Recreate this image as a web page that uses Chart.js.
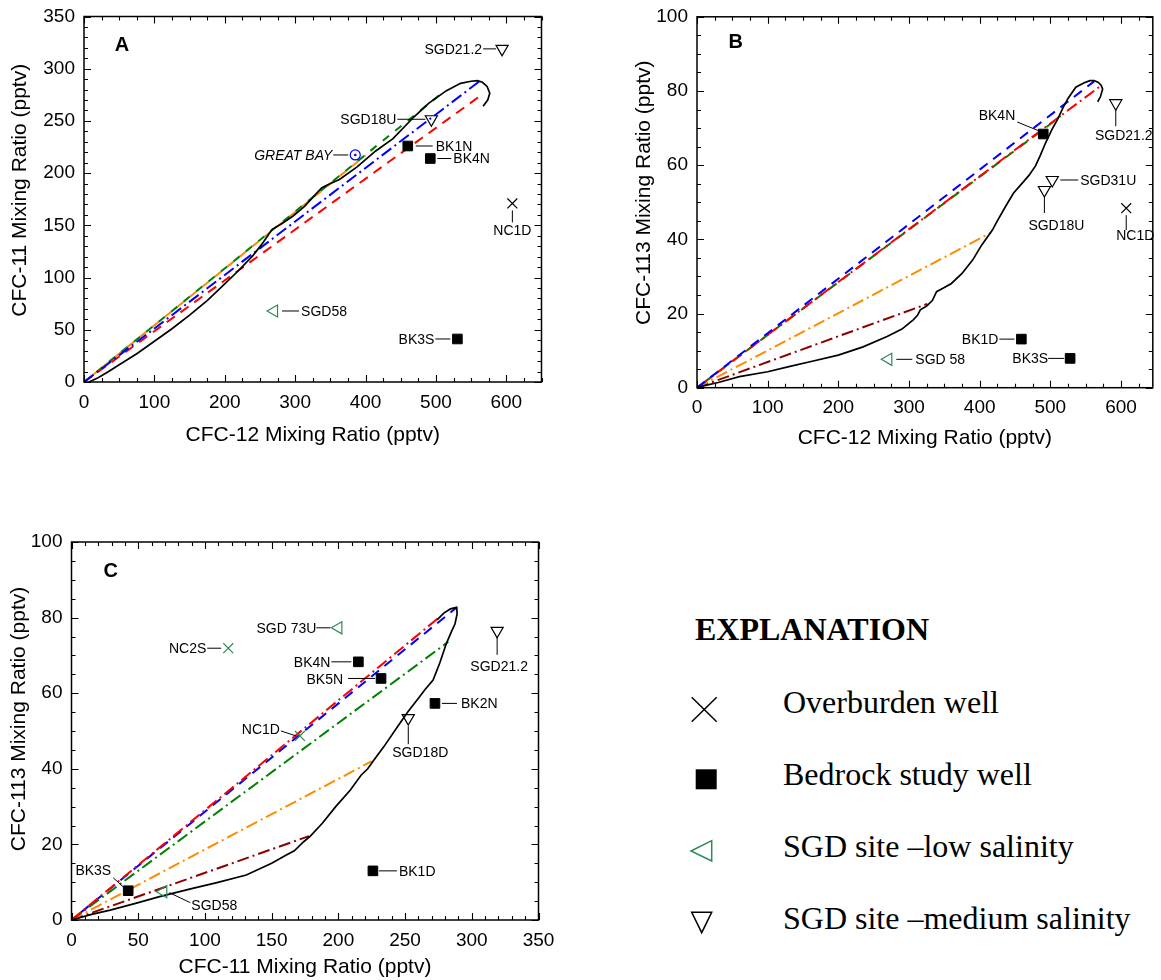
<!DOCTYPE html>
<html><head><meta charset="utf-8">
<script src="https://cdn.jsdelivr.net/npm/chart.js@4.4.1/dist/chart.umd.min.js"></script>
<style>
html,body{margin:0;padding:0;background:#fff;}
body{width:1161px;height:980px;overflow:hidden;position:relative;}
canvas{position:absolute;}
.ex{position:absolute;font-family:"Liberation Serif","Times New Roman",serif;font-size:32px;line-height:32px;white-space:nowrap;color:#000;}
</style></head><body>
<canvas id="cA" width="560" height="460" style="left:0px;top:0px;width:560px;height:460px"></canvas>
<canvas id="cB" width="561" height="460" style="left:600px;top:0px;width:561px;height:460px"></canvas>
<canvas id="cC" width="560" height="460" style="left:0px;top:520px;width:560px;height:460px"></canvas>

<div class="ex" style="left:695px;top:613px;font-weight:bold;">EXPLANATION</div>
<div class="ex" style="left:783px;top:686px;">Overburden well</div>
<div class="ex" style="left:783px;top:757.5px;">Bedrock study well</div>
<div class="ex" style="left:783px;top:830px;">SGD site –low salinity</div>
<div class="ex" style="left:783px;top:901.5px;">SGD site –medium salinity</div>
<svg style="position:absolute;left:680px;top:680px" width="60" height="270">
  <line x1="11.7" y1="17.3" x2="36.7" y2="41.7" stroke="#000" stroke-width="1.5"/>
  <line x1="36.7" y1="17.3" x2="11.7" y2="41.7" stroke="#000" stroke-width="1.5"/>
  <rect x="15.7" y="89.3" width="21" height="20" fill="#000"/>
  <polygon points="11,171 31.7,160.7 31.7,181" fill="none" stroke="#2E8B57" stroke-width="1.5"/>
  <polygon points="11.7,232.3 31.7,232.3 21.7,252.7" fill="none" stroke="#000" stroke-width="1.5"/>
</svg>

<script>
// ================= DATA =================
// Panel A: CFC-11 (y) vs CFC-12 (x)
const ticksA_x = [0,100,200,300,400,500,600];
const ticksA_y = [0,50,100,150,200,250,300,350];
const curveA = [[7,0],[20,4],[35,10],[50,16.5],[75,27],[100,39],[125,51],[150,64],[175,78],[200,94],[220,107],[240,121],[255,134],[267,146],[282,152],[297,159],[313,168],[328,179],[338,186],[350,190],[363,194],[388,206],[414,221],[439,233],[469,254],[490,267],[515,279],[535,286],[550,288],[559,288.5],[566,287],[572.7,283],[576.5,276.5],[573.6,270],[567,264]];
const lineA_blue   = [[0,0],[562,288]];
const lineA_red    = [[0,0],[563,274]];
const lineA_green  = [[0,0],[511,278]];
const lineA_orange = [[0,0],[400,217]];
const wellsA = [
  ['SGD21.2', 594, 319, 'sgdMed'],
  ['SGD18U', 493.5, 251.6, 'sgdMed'],
  ['GREAT BAY', 385.4, 217.4, 'bay'],
  ['BK1N', 460, 226, 'bedrock'],
  ['BK4N', 492, 214, 'bedrock'],
  ['NC1D', 608.6, 171, 'overburden'],
  ['SGD58', 270, 68, 'sgdLow'],
  ['BK3S', 530.5, 41.2, 'bedrock']
];

// Panel B: CFC-113 (y) vs CFC-12 (x)
const ticksB_x = [0,100,200,300,400,500,600];
const ticksB_y = [0,20,40,60,80,100];
const curveB = [[0,0],[9,0.5],[30,1.4],[60,3],[100,4.3],[130,5.7],[160,7],[200,8.8],[235,11],[269,13.8],[290,15.8],[306,18.3],[312,19.5],[316,21],[325,22],[333,23.5],[339,25.9],[350,27],[360,28.1],[375,30.8],[390,34.4],[403,38.5],[418,42.5],[425,45],[437,49],[448,52.5],[460,55.1],[470,57.3],[479,59.8],[486,62.7],[493,65.9],[502,69.5],[511,72.6],[518,75.5],[525,78],[536,81],[548,82.2],[556,82.8],[562,82.8],[568,82.3],[572,81.5],[574,80.5],[571,78.5],[567,77.1]];
const lineB_blue   = [[0,0],[562,82.6]];
const lineB_red    = [[0,0],[570,81.2]];
const lineB_green  = [[0,0],[515,73.2]];
const lineB_orange = [[0,0],[416,41.8]];
const lineB_brown  = [[0,0],[326,22.6]];
const wellsB = [
  ['BK4N', 490, 68.4, 'bedrock'],
  ['SGD21.2', 592.6, 76.7, 'sgdMed'],
  ['SGD31U', 502.7, 56, 'sgdMed'],
  ['SGD18U', 491.6, 53.3, 'sgdMed'],
  ['NC1D', 607.4, 48.4, 'overburden'],
  ['BK1D', 459, 13.1, 'bedrock'],
  ['BK3S', 528, 7.9, 'bedrock'],
  ['SGD 58', 270.7, 7.65, 'sgdLow']
];

// Panel C: CFC-113 (y) vs CFC-11 (x)
const ticksC_x = [0,50,100,150,200,250,300,350];
const ticksC_y = [0,20,40,60,80,100];
const curveC = [[0,0],[15,1.5],[29,2.6],[48,4.4],[66,6.2],[90,8.3],[109,9.9],[131,11.9],[150,15],[161,17.2],[167,18.3],[174,20.7],[179,22.2],[188,25.6],[198,30],[209,34.4],[217,38.3],[222,40],[226,42],[234,45.8],[246,52],[252,55],[259,58.2],[265,61],[271,63.5],[276,68],[281,73.2],[285,76.5],[287.4,78.3],[289,81],[288.7,82.7],[284,82.3],[279,81.2],[274,79.4]];
const lineC_red    = [[0,0],[276,80.2]];
const lineC_blue   = [[0,0],[288.7,82.7]];
const lineC_green  = [[0,0],[282.4,73.6]];
const lineC_orange = [[0,0],[225,42]];
const lineC_brown  = [[0,0],[178,22.2]];
const wellsC = [
  ['SGD 73U', 200, 77.3, 'sgdLow'],
  ['NC2S', 117.5, 71.9, 'overburdenG'],
  ['BK4N', 215, 68.3, 'bedrock'],
  ['BK5N', 232, 63.9, 'bedrock'],
  ['BK2N', 272.4, 57.3, 'bedrock'],
  ['SGD18D', 252.4, 53.4, 'sgdMed'],
  ['SGD21.2', 319, 76.5, 'sgdMed'],
  ['NC1D', 171.2, 48.7, 'overburdenG'],
  ['BK3S', 42.5, 7.75, 'bedrock'],
  ['SGD58', 68.8, 7.5, 'sgdLow'],
  ['BK1D', 225.9, 13, 'bedrock']
];

// ================= STYLE / LAYOUT =================
const FONT = '"Liberation Sans", Arial, sans-serif';
const BLUE='#0000FF', RED='#FF0000', GREEN='#008000', ORANGE='#FF8C00', BROWN='#8B0000', MGREEN='#2E8B57';
const DASH=[10,7], DASHDOT=[12,4,2,4];

const MARK = {
  overburden:  {style:'crossRot', r:7,   color:'#000', fill:'rgba(0,0,0,0)', bw:1.2},
  overburdenG: {style:'crossRot', r:7,   color:MGREEN, fill:'rgba(0,0,0,0)', bw:1.2},
  bedrock:     {style:'rect',     r:6.8, color:'#000', fill:'#000', bw:1},
  sgdLow:      {style:'triangle', r:7,   color:MGREEN, fill:'rgba(0,0,0,0)', bw:1.2, rot:270},
  sgdMed:      {style:'triangle', r:7,   color:'#000', fill:'rgba(0,0,0,0)', bw:1.2, rot:180},
  bay:         {style:'circle',   r:5,   color:BLUE, fill:'rgba(0,0,0,0)', bw:1.2}
};

// label layout: t = [dx, dy, align] text offset, l = leader line offsets
const layoutA = {
  'SGD21.2': {t:[-20,0,'right'], l:[-19,0,-6,0]},
  'SGD18U':  {t:[-35,0,'right'], l:[-34,0,-6,0]},
  'GREAT BAY': {t:[-23,0,'right'], l:[-22,0,-7,0], it:true},
  'BK1N':    {t:[28,0,'left'], l:[8,0,25,0]},
  'BK4N':    {t:[23,0,'left'], l:[7,0,21,0]},
  'NC1D':    {t:[0,27,'center'], l:[0,7,0,19]},
  'SGD58':   {t:[27,0,'left'], l:[8,0,25,0]},
  'BK3S':    {t:[-23,0,'right'], l:[-22,0,-7,0]}
};
const layoutB = {
  'BK4N':    {t:[-28,-19,'right'], l:[-26,-12,-4,-3]},
  'SGD21.2': {t:[8,32,'center'], l:[0,7,0,23]},
  'SGD31U':  {t:[28,0,'left'], l:[8,0,26,0]},
  'SGD18U':  {t:[12,35,'center'], l:[0,6,0,23]},
  'NC1D':    {t:[9,27,'center'], l:[0,7,0,22]},
  'BK1D':    {t:[-23,0,'right'], l:[-22,0,-7,0]},
  'BK3S':    {t:[-22,0,'right'], l:[-22,0,-6,0]},
  'SGD 58':  {t:[27,0,'left'], l:[8,0,24,0]}
};
const layoutC = {
  'SGD 73U': {t:[-22,0,'right'], l:[-22,0,-8,0]},
  'NC2S':    {t:[-22,0,'right'], l:[-21,0,-7,0]},
  'BK4N':    {t:[-28,0,'right'], l:[-27,0,-7,0]},
  'BK5N':    {t:[-38,1,'right'], l:[-33,0,-6,0]},
  'BK2N':    {t:[26,0,'left'], l:[7,0,22,0]},
  'SGD18D':  {t:[12,34,'center'], l:[0,8,0,26]},
  'SGD21.2': {t:[2,35,'center'], l:[0,7,0,24]},
  'NC1D':    {t:[-20,-7,'right'], l:[-19,-5,-4,0]},
  'BK3S':    {t:[-17,-21,'right'], l:[-15,-13,-3,-2]},
  'SGD58':   {t:[28,13,'left'], l:[6,1,27,11]},
  'BK1D':    {t:[26,0,'left'], l:[6,0,24,0]}
};

// ================= BUILDERS =================
const toXY = arr => arr.map(p => ({x:p[0], y:p[1]}));

function lineDS(arr, color, dash, off) {
  return {data: toXY(arr), showLine:true, borderColor:color, borderWidth:2, borderDash:dash,
          borderDashOffset:off||0, pointRadius:0, pointHoverRadius:0, fill:false, order:3};
}
function curveDS(arr) {
  return {data: toXY(arr), showLine:true, borderColor:'#000', borderWidth:1.7, pointRadius:0,
          pointHoverRadius:0, fill:false, order:2};
}
function markerDS(wells) {
  const out = [];
  const types = [...new Set(wells.map(w => w[3]))];
  types.forEach(t => {
    const s = MARK[t];
    const data = wells.filter(w => w[3] === t).map(w => ({x:w[1], y:w[2]}));
    out.push({data, showLine:false, pointStyle:s.style, pointRadius:s.r, pointHoverRadius:s.r,
      pointRotation:s.rot||0, pointBorderColor:s.color, pointBackgroundColor:s.fill,
      pointBorderWidth:s.bw, order:1});
    if (t === 'bay') {
      out.push({data, showLine:false, pointStyle:'circle', pointRadius:1.3, pointHoverRadius:1.3,
        pointBorderColor:BLUE, pointBackgroundColor:BLUE, pointBorderWidth:0, order:0});
    }
  });
  return out;
}

function decor(cfg) {
  return {
    id: 'decor' + cfg.letter,
    afterDatasetsDraw(chart) {
      const {ctx, chartArea:ca, scales:{x, y}} = chart;
      ctx.save();
      // frame
      ctx.strokeStyle = '#000';
      ctx.lineWidth = 1.5;
      ctx.strokeRect(ca.left, ca.top, ca.right - ca.left, ca.bottom - ca.top);
      // inward ticks on all sides
      const isMajor = (v, m) => Math.abs(v / m - Math.round(v / m)) < 1e-6;
      ctx.lineWidth = 1.1;
      ctx.beginPath();
      for (let v = x.min; v <= x.max + 1e-9; v += cfg.xMinor) {
        const p = Math.round(x.getPixelForValue(v)) + 0.5;
        const L = isMajor(v, cfg.xMajor) ? 7 : 4;
        ctx.moveTo(p, ca.bottom); ctx.lineTo(p, ca.bottom - L);
        ctx.moveTo(p, ca.top); ctx.lineTo(p, ca.top + L);
      }
      for (let v = y.min; v <= y.max + 1e-9; v += cfg.yMinor) {
        const p = Math.round(y.getPixelForValue(v)) + 0.5;
        const L = isMajor(v, cfg.yMajor) ? 7 : 4;
        ctx.moveTo(ca.left, p); ctx.lineTo(ca.left + L, p);
        ctx.moveTo(ca.right, p); ctx.lineTo(ca.right - L, p);
      }
      ctx.stroke();
      // y-axis title
      ctx.fillStyle = '#000';
      ctx.save();
      ctx.translate(cfg.yTitle[0], (ca.top + ca.bottom) / 2 + cfg.yTitle[1]);
      ctx.rotate(-Math.PI / 2);
      ctx.font = '21px ' + FONT;
      ctx.textAlign = 'center'; ctx.textBaseline = 'middle';
      ctx.fillText(cfg.yTitleText, 0, 0);
      ctx.restore();
      // panel letter
      ctx.font = 'bold 20px ' + FONT;
      ctx.textAlign = 'center'; ctx.textBaseline = 'middle';
      ctx.fillText(cfg.letter, ca.left + cfg.letterPos[0], ca.top + cfg.letterPos[1]);
      // labels + leaders
      ctx.lineWidth = 1;
      cfg.wells.forEach(w => {
        const L = cfg.layout[w[0]];
        if (!L) return;
        const px = x.getPixelForValue(w[1]), py = y.getPixelForValue(w[2]);
        ctx.beginPath();
        ctx.moveTo(px + L.l[0], py + L.l[1]); ctx.lineTo(px + L.l[2], py + L.l[3]);
        ctx.stroke();
        ctx.font = (L.it ? 'italic ' : '') + '14px ' + FONT;
        ctx.textAlign = L.t[2]; ctx.textBaseline = 'middle';
        ctx.fillText(w[0], px + L.t[0], py + L.t[1] + 1);
      });
      ctx.restore();
    }
  };
}

function axis(pos, min, max, tickVals, title, size, titlePad) {
  return {
    type:'linear', position:pos, min, max,
    grid:{display:false, drawTicks:false}, border:{display:false},
    ticks:{color:'#000', font:{family:FONT, size:19}, padding:9, autoSkip:false, maxRotation:0, includeBounds:false},
    afterBuildTicks: s => { s.ticks = tickVals.map(v => ({value:v})); },
    afterFit: s => {
      if (pos === 'bottom') s.height = size; else s.width = size;
      s.paddingTop = 0; s.paddingBottom = 0; s.paddingLeft = 0; s.paddingRight = 0;
    },
    title:{display: pos === 'bottom', text:title, color:'#000', font:{family:FONT, size:21}, padding:{top:titlePad, bottom:0}}
  };
}

function makeChart(id, datasets, sc, pad, cfg) {
  return new Chart(document.getElementById(id), {
    type:'scatter',
    data:{datasets},
    options:{
      responsive:false, animation:false, devicePixelRatio:1,
      layout:{padding:pad},
      plugins:{legend:{display:false}, tooltip:{enabled:false}},
      events:[],
      scales:{x:sc.x, y:sc.y}
    },
    plugins:[decor(cfg)]
  });
}

// ----- Chart A -----
makeChart('cA', [
  ...markerDS(wellsA),
  curveDS(curveA),
  lineDS(lineA_blue, BLUE, DASHDOT),
  lineDS(lineA_red, RED, DASH),
  lineDS(lineA_green, GREEN, [8,8], 0),
  lineDS(lineA_orange, ORANGE, [8,8], 8)
], {
  x: axis('bottom', 0, 650, ticksA_x, 'CFC-12 Mixing Ratio (pptv)', 65.6, 0),
  y: axis('left', 0, 350, ticksA_y, 'CFC-11 Mixing Ratio (pptv)', 84, 0)
}, {left:0, top:16.5, right:18.5, bottom:12.4},
{letter:'A', letterPos:[38,28.5], xMajor:100, xMinor:25, yMajor:50, yMinor:10, wells:wellsA, layout:layoutA,
 yTitle:[20,-9], yTitleText:'CFC-11 Mixing Ratio (pptv)'});

// ----- Chart B -----
makeChart('cB', [
  ...markerDS(wellsB),
  curveDS(curveB),
  lineDS(lineB_blue, BLUE, DASH),
  lineDS(lineB_red, RED, DASHDOT),
  lineDS(lineB_green, GREEN, DASH, 6),
  lineDS(lineB_orange, ORANGE, DASHDOT),
  lineDS(lineB_brown, BROWN, DASHDOT)
], {
  x: axis('bottom', 0, 645, ticksB_x, 'CFC-12 Mixing Ratio (pptv)', 63.2, 0),
  y: axis('left', 0, 100, ticksB_y, 'CFC-113 Mixing Ratio (pptv)', 97, 0)
}, {left:0, top:16.8, right:2, bottom:9.1},
{letter:'B', letterPos:[38.6,26], xMajor:100, xMinor:25, yMajor:20, yMinor:5, wells:wellsB, layout:layoutB,
 yTitle:[44,-9.5], yTitleText:'CFC-113 Mixing Ratio (pptv)'});

// ----- Chart C -----
makeChart('cC', [
  ...markerDS(wellsC),
  curveDS(curveC),
  lineDS(lineC_red, RED, DASHDOT),
  lineDS(lineC_blue, BLUE, DASH, 5),
  lineDS(lineC_green, GREEN, DASHDOT),
  lineDS(lineC_orange, ORANGE, DASHDOT),
  lineDS(lineC_brown, BROWN, DASHDOT)
], {
  x: axis('bottom', 0, 350, ticksC_x, 'CFC-11 Mixing Ratio (pptv)', 60, 0),
  y: axis('left', 0, 100, ticksC_y, 'CFC-113 Mixing Ratio (pptv)', 71.5, 0)
}, {left:0, top:22, right:21.5, bottom:0},
{letter:'C', letterPos:[39.3,29.7], xMajor:50, xMinor:10, yMajor:20, yMinor:5, wells:wellsC, layout:layoutC,
 yTitle:[19.6,-12], yTitleText:'CFC-113 Mixing Ratio (pptv)'});
</script>
</body></html>
